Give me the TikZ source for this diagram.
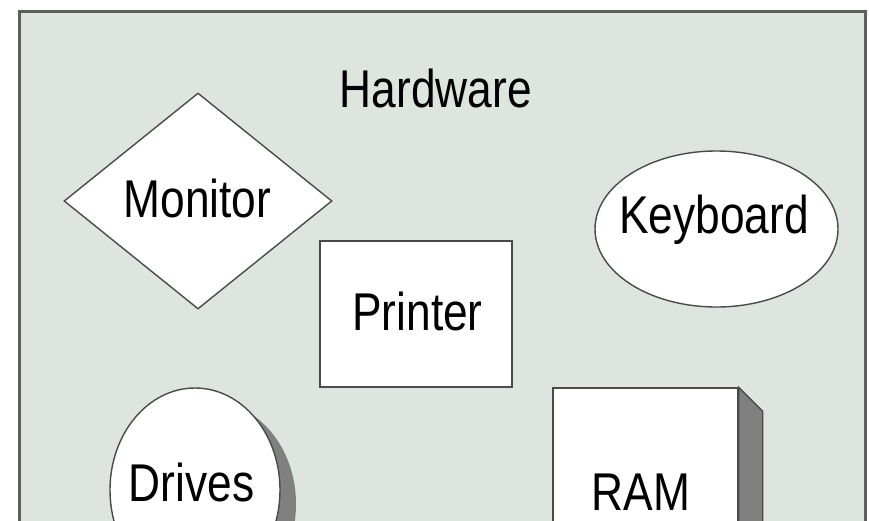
\documentclass[tikz,border=0pt]{standalone}
\usepackage{fontspec}
\usepackage{graphicx}
\setmainfont{Liberation Sans}
\usetikzlibrary{shapes.geometric}

\definecolor{panelfill}{HTML}{DEE5DE}
\definecolor{panelline}{HTML}{5E5E5E}
\definecolor{shapeline}{HTML}{4A4A4A}
\definecolor{shadowgray}{HTML}{808080}

% tall, slightly condensed label text
\newcommand{\talltext}[1]{\scalebox{1}[1.2]{#1}}

\tikzset{
  part/.style={draw=shapeline, line width=1.4pt, fill=white, inner sep=0pt},
  lbl/.style={anchor=base, inner sep=0pt, font=\fontsize{44.3}{50}\selectfont},
  shade/.style={fill=shadowgray, draw=none},
}

\begin{document}
\begin{tikzpicture}[x=1pt, y=-1pt]
\useasboundingbox (0,0) rectangle (869,520);
\clip (0,0) rectangle (869,520);
\fill[white] (0,0) rectangle (869,520);

% container panel
\draw[fill=panelfill, draw=panelline, line width=3pt] (19,11) rectangle (865,640);

\node[lbl] (title) at (436,107) {\talltext{Hardware}};

% monitor
\node[part, diamond, minimum width=268pt, minimum height=216pt] (monitor) at (198,201) {};
\node[lbl] (monitorlbl) at (197.5,217) {\talltext{Monitor}};

% printer
\node[part, rectangle, minimum width=192pt, minimum height=146pt] (printer) at (416,314) {};
\node[lbl] (printerlbl) at (417.5,330) {\talltext{Printer}};

% keyboard
\node[part, ellipse, minimum width=243pt, minimum height=156pt] (keyboard) at (716.5,229) {};
\node[lbl] (keyboardlbl) at (714,233) {\talltext{Keyboard}};

% drives with drop shadow
\node[shade, ellipse, minimum width=170pt, minimum height=204pt, inner sep=0pt] (drivesshadow) at (211,504) {};
\node[part, ellipse, minimum width=170pt, minimum height=204pt] (drives) at (195,490) {};
\node[lbl] (driveslbl) at (191.5,501.5) {\talltext{Drives}};

% RAM block with extruded side
\node[part, rectangle, minimum width=185pt, minimum height=240pt] (ram) at (645.5,508) {};
\coordinate (ramback) at ([shift={(24,24)}]ram.north east);
\filldraw[fill=shadowgray, draw=shapeline, line width=1.4pt]
  (ram.north east) -- (ramback) -- ([shift={(24,0)}]ram.south east) -- (ram.south east) -- cycle;
\node[lbl] (ramlbl) at (641,510) {\talltext{RAM}};
\end{tikzpicture}
\end{document}
